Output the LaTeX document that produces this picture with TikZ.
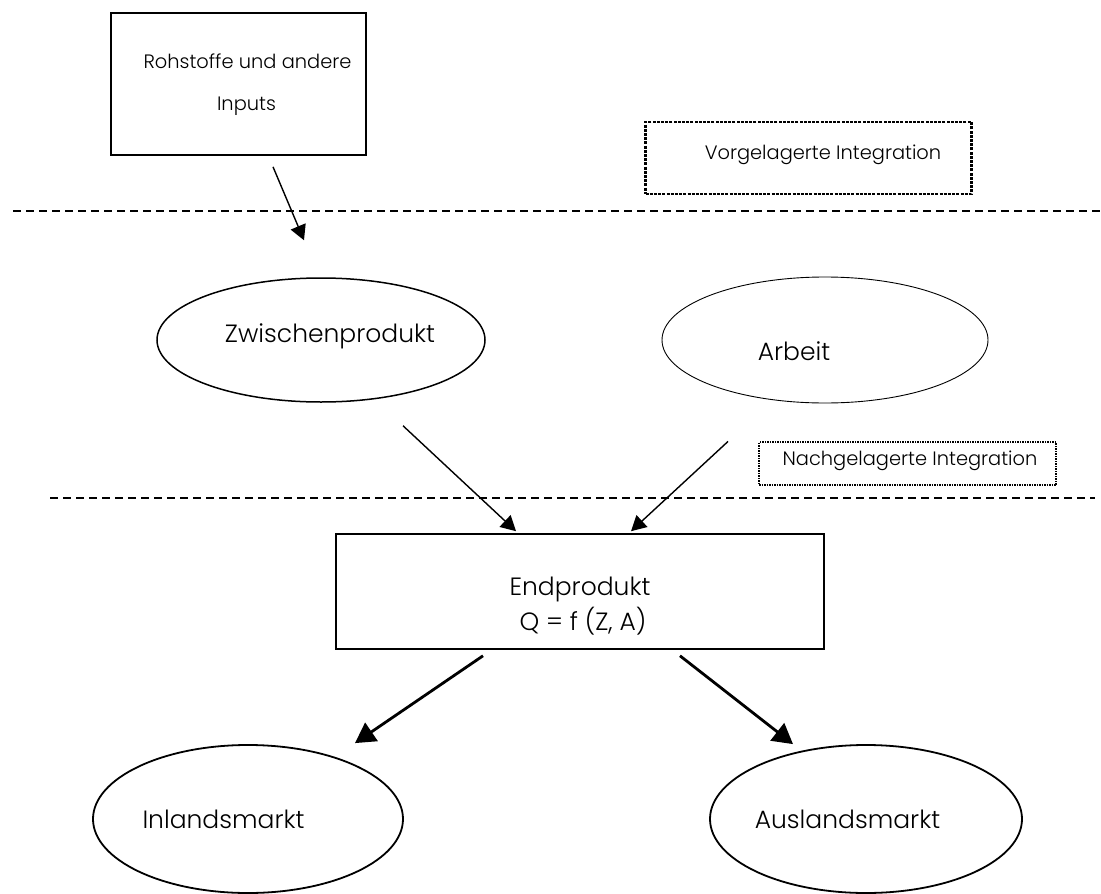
\documentclass[tikz,border=0pt]{standalone}
\usepackage{fontspec}
\setmainfont{Poppins Light}
\usetikzlibrary{arrows.meta,shapes.geometric,calc}
\begin{document}
\begin{tikzpicture}[x=1pt,y=-1pt,
  box/.style={draw, line width=1.6pt, inner sep=0pt},
  oval/.style={draw, ellipse, inner sep=0pt},
  bigtxt/.style={anchor=base, inner sep=0pt, font=\fontsize{25}{30}\selectfont},
  smalltxt/.style={anchor=base, inner sep=0pt, font=\fontsize{19.4}{23}\selectfont},
  dotbox/.style={draw, inner sep=0pt, dash pattern=on 3pt off 1.2pt, line width=2.4pt},
  thindotbox/.style={draw, inner sep=0pt, dash pattern=on 1.5pt off 1pt, line width=1.3pt},
  sepline/.style={line width=1.5pt, dash pattern=on 8pt off 5pt},
  thinarrow/.style={line width=1.4pt, -{Triangle[length=15pt,width=16pt]}},
  thickarrow/.style={line width=2.8pt, -{Triangle[length=20pt,width=22pt]}}
]
\useasboundingbox (0,0) rectangle (1101,894);

% level boundaries
\coordinate (s1a) at (13,211);  \coordinate (s1b) at (1101,211);
\coordinate (s2a) at (50,498);  \coordinate (s2b) at (1095,498);
\draw[sepline] (s1a) -- (s1b);
\draw[sepline] (s2a) -- (s2b);

% raw materials
\node[box, minimum width=255pt, minimum height=142pt] (roh) at (238.5,84) {};
\node[smalltxt] (rohA) at (247.5,68) {Rohstoffe und andere};
\node[smalltxt] (rohB) at (246.5,110) {Inputs};

% integration labels
\node[dotbox, minimum width=326pt, minimum height=72pt] (vor) at (808.5,158) {};
\node[smalltxt] (vorT) at (823,159) {Vorgelagerte Integration};
\node[thindotbox, minimum width=297pt, minimum height=43pt] (nach) at (907.5,463.5) {};
\node[smalltxt] (nachT) at (910,465) {Nachgelagerte Integration};

% intermediate level
\node[oval, line width=1.5pt, minimum width=328pt, minimum height=124pt] (zw) at (321,340) {};
\node[bigtxt] (zwT) at (330,342) {Zwischenprodukt};
\node[oval, line width=0.9pt, minimum width=326pt, minimum height=126pt] (arb) at (825,340) {};
\node[bigtxt] (arbT) at (794,360) {Arbeit};

% final product
\node[box, minimum width=488pt, minimum height=115pt] (end) at (580,591.5) {};
\node[bigtxt] (endA) at (580,595) {Endprodukt};
\node[bigtxt] (endB) at (583,630) {Q = f (Z, A)};

% markets
\node[oval, line width=1.8pt, minimum width=310pt, minimum height=148pt] (inl) at (248,819) {};
\node[bigtxt] (inlT) at (223.5,828) {Inlandsmarkt};
\node[oval, line width=1.8pt, minimum width=312pt, minimum height=148pt] (aus) at (866,819) {};
\node[bigtxt] (ausT) at (847.5,828) {Auslandsmarkt};

% connector end points
\coordinate (a1s) at ($(roh.south)+(34.5,11)$);
\coordinate (a1e) at ($(zw.north)+(-17,-37)$);
\coordinate (a2s) at ($(zw.south)+(82,23)$);
\coordinate (a2e) at ($(end.north)+(-64,-2)$);
\coordinate (a3s) at ($(arb.south)+(-97,38)$);
\coordinate (a3e) at ($(end.north)+(51,-2)$);
\coordinate (a4s) at ($(end.south)+(-97,6)$);
\coordinate (a4e) at ($(inl.north)+(107,-1)$);
\coordinate (a5s) at ($(end.south)+(100,6)$);
\coordinate (a5e) at ($(aus.north)+(-73,0)$);

% connectors
\draw[thinarrow] (a1s) -- (a1e);
\draw[thinarrow] (a2s) -- (a2e);
\draw[thinarrow] (a3s) -- (a3e);
\draw[thickarrow] (a4s) -- (a4e);
\draw[thickarrow] (a5s) -- (a5e);
\end{tikzpicture}
\end{document}
